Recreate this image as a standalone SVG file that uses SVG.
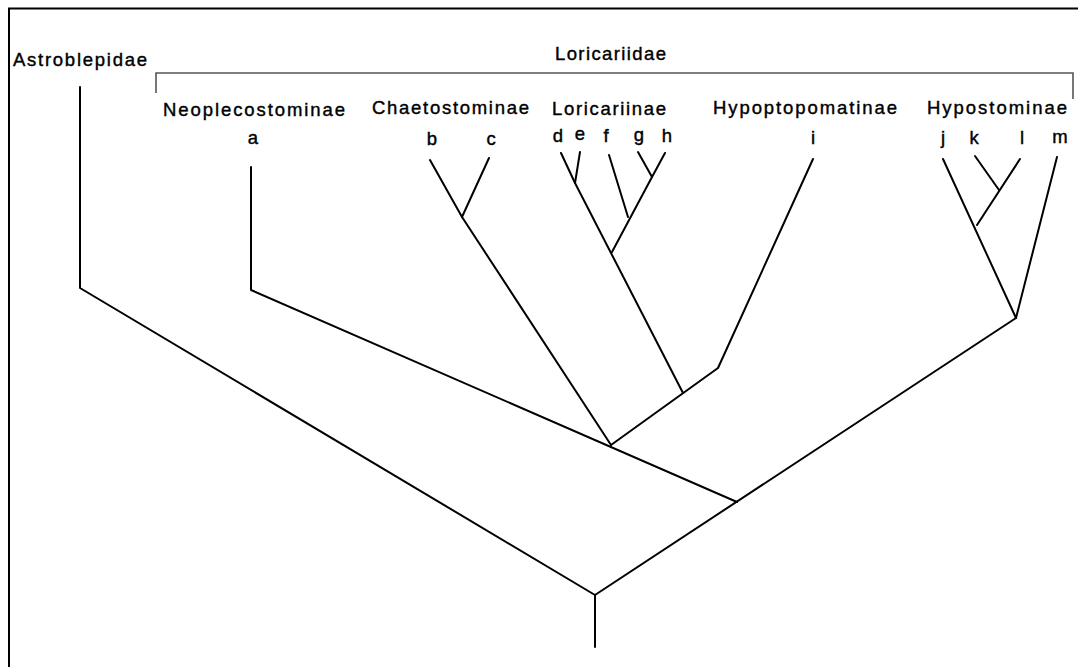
<svg xmlns="http://www.w3.org/2000/svg" width="1078" height="667" viewBox="0 0 1078 667">
<style>
.t{font-family:"Liberation Sans",Arial,sans-serif;font-size:18.5px;fill:#000;stroke:#000;stroke-width:0.4}
.l{font-family:"Liberation Sans",Arial,sans-serif;font-size:18.5px;fill:#000;stroke:#000;stroke-width:0.4;text-anchor:middle}
.e{stroke:#000;stroke-width:2;fill:none;stroke-linecap:round;stroke-linejoin:round}
.br{stroke:#555;stroke-width:1.6;fill:none}
</style>
<rect x="0" y="0" width="1078" height="667" fill="#fff"/>
<g id="frame">
<path d="M9,667 V8.5 H1078" fill="none" stroke="#000" stroke-width="2"/>
</g>
<g id="bracket">
<path class="br" d="M156,93 V73 H1073 V99"/>
</g>
<g id="labels">
<text id="astroblepidae" class="t" x="13" y="66" textLength="134">Astroblepidae</text>
<text id="loricariidae" class="t" x="555" y="60" textLength="111">Loricariidae</text>
<text id="neoplecostominae" class="t" x="163" y="116" textLength="182">Neoplecostominae</text>
<text id="chaetostominae" class="t" x="372" y="114" textLength="157">Chaetostominae</text>
<text id="loricariinae" class="t" x="552" y="115" textLength="114">Loricariinae</text>
<text id="hypoptopomatinae" class="t" x="713" y="114" textLength="184">Hypoptopomatinae</text>
<text id="hypostominae" class="t" x="927" y="114" textLength="140">Hypostominae</text>
</g>
<g id="leaves">
<text id="leaf-a" class="l" x="253" y="144">a</text>
<text id="leaf-b" class="l" x="432" y="145">b</text>
<text id="leaf-c" class="l" x="491" y="145">c</text>
<text id="leaf-d" class="l" x="558" y="142">d</text>
<text id="leaf-e" class="l" x="580" y="140">e</text>
<text id="leaf-f" class="l" x="606" y="142">f</text>
<text id="leaf-g" class="l" x="639" y="141">g</text>
<text id="leaf-h" class="l" x="667" y="142">h</text>
<text id="leaf-i" class="l" x="813" y="144">i</text>
<text id="leaf-j" class="l" x="943" y="144">j</text>
<text id="leaf-k" class="l" x="974" y="144">k</text>
<text id="leaf-l" class="l" x="1022" y="144">l</text>
<text id="leaf-m" class="l" x="1060" y="143">m</text>
</g>
<g id="connectors">
<path class="e" d="M80,87 V288 L595,595"/>
<path class="e" d="M595,595 V647"/>
<path class="e" d="M595,595 L1016,318"/>
<path class="e" d="M251,167 V290 L737,502"/>
<path class="e" d="M611,445 L718,368 L813,159"/>
<path class="e" d="M430,160 L462,217 L611,445"/>
<path class="e" d="M489,158 L462,217"/>
<path class="e" d="M561,153 L575,183 L683,393"/>
<path class="e" d="M580,152 L575,183"/>
<path class="e" d="M609,155 L628,217"/>
<path class="e" d="M638,152 L652,177 L665,153"/>
<path class="e" d="M652,177 L612,252"/>
<path class="e" d="M943,159 L1016,318 L1057,157"/>
<path class="e" d="M975,156 L999,190"/>
<path class="e" d="M1020,159 L977,225"/>
</g>
</svg>
